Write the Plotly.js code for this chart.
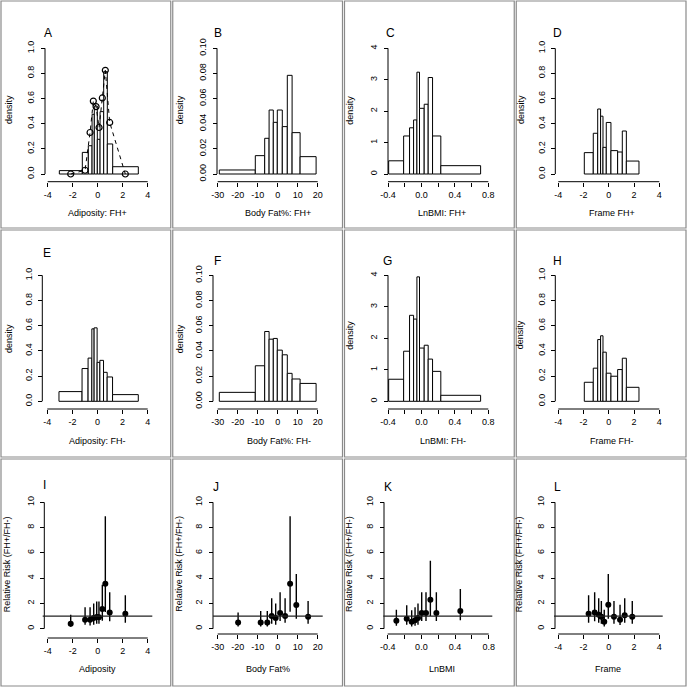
<!DOCTYPE html>
<html>
<head>
<meta charset="utf-8">
<script src="https://cdn.plot.ly/plotly-3.0.1.min.js"></script>
<style>html,body{margin:0;padding:0;background:#fff;}#plot{width:687px;height:687px;}</style>
</head>
<body>
<div id="plot"></div>
<script>
// ---------------- DATA ----------------
// histogram bin edges (shared by FH+ and FH- panels of each measure)
const adiposityEdges = [-3.07, -1.23, -0.75, -0.45, -0.27, -0.03, 0.19, 0.48, 0.77, 1.20, 3.25];
const adiposityDensFHpos = [0.027, 0.172, 0.225, 0.475, 0.541, 0.276, 0.496, 0.814, 0.239, 0.058];
const adiposityDensFHneg = [0.077, 0.260, 0.343, 0.575, 0.583, 0.309, 0.325, 0.230, 0.193, 0.053];
const adiposityCurveX = [-2.16, -1.01, -0.61, -0.35, -0.13, 0.11, 0.37, 0.61, 0.96, 2.21];
const adiposityCurveY = [0.00, 0.03, 0.33, 0.58, 0.536, 0.37, 0.605, 0.825, 0.41, 0.00];

const bodyFatEdges = [-29.2, -11.2, -6.5, -4.3, -2.2, -0.2, 2.3, 4.8, 7.2, 11.2, 19.2];
const bodyFatDensFHpos = [0.0032, 0.0146, 0.0284, 0.0509, 0.0411, 0.0509, 0.0377, 0.0785, 0.0329, 0.0138];
const bodyFatDensFHneg = [0.0071, 0.0282, 0.0554, 0.0493, 0.0499, 0.0406, 0.0369, 0.0222, 0.0177, 0.0142];

const lnBMIEdges = [-0.392, -0.213, -0.142, -0.094, -0.054, -0.023, 0.033, 0.081, 0.133, 0.232, 0.708];
const lnBMIDensFHpos = [0.42, 1.21, 1.47, 1.72, 3.24, 2.09, 2.22, 3.07, 1.21, 0.265];
const lnBMIDensFHneg = [0.70, 1.59, 2.73, 2.61, 3.95, 1.69, 1.78, 1.34, 0.95, 0.19];

const frameEdges = [-1.94, -1.23, -0.88, -0.65, -0.46, -0.20, 0.17, 0.70, 1.07, 1.39, 2.39];
const frameDensFHpos = [0.170, 0.324, 0.517, 0.460, 0.212, 0.410, 0.186, 0.175, 0.342, 0.103];
const frameDensFHneg = [0.151, 0.263, 0.490, 0.520, 0.390, 0.223, 0.199, 0.252, 0.342, 0.111];

// relative risk (FH+/FH-) with confidence limits
const adiposityRRx  = [-2.16, -1.01, -0.61, -0.32, -0.08, 0.10, 0.37, 0.61, 0.96, 2.21];
const adiposityRR   = [0.40, 0.71, 0.71, 0.84, 0.92, 0.90, 1.56, 3.56, 1.29, 1.19];
const adiposityRRlo = [0.15, 0.32, 0.26, 0.32, 0.40, 0.40, 0.63, 1.32, 0.58, 0.47];
const adiposityRRhi = [1.11, 1.69, 1.69, 2.00, 2.16, 2.16, 3.48, 8.89, 2.88, 2.64];

const bodyFatRRx  = [-19.8, -8.5, -5.2, -3.0, -1.0, 1.2, 3.7, 6.2, 9.3, 15.2];
const bodyFatRR   = [0.50, 0.50, 0.50, 1.00, 0.84, 1.24, 1.00, 3.56, 1.87, 0.95];
const bodyFatRRlo = [0.18, 0.18, 0.18, 0.40, 0.32, 0.60, 0.47, 1.35, 0.79, 0.40];
const bodyFatRRhi = [1.29, 1.40, 1.40, 2.40, 2.00, 2.88, 2.40, 8.89, 4.33, 2.19];

const lnBMIRRx  = [-0.297, -0.174, -0.115, -0.075, -0.040, 0.004, 0.055, 0.107, 0.178, 0.463];
const lnBMIRR   = [0.63, 0.79, 0.55, 0.66, 0.84, 1.24, 1.24, 2.30, 1.24, 1.40];
const lnBMIRRlo = [0.24, 0.32, 0.18, 0.24, 0.32, 0.60, 0.60, 1.00, 0.60, 0.66];
const lnBMIRRhi = [1.50, 1.85, 1.45, 1.69, 2.00, 2.88, 2.88, 5.38, 2.88, 3.14];

const frameRRx  = [-1.60, -1.12, -0.80, -0.59, -0.36, -0.04, 0.41, 0.89, 1.26, 1.86];
const frameRR   = [1.19, 1.29, 1.10, 0.95, 0.55, 1.90, 0.95, 0.71, 1.06, 0.95];
const frameRRlo = [0.47, 0.58, 0.47, 0.40, 0.18, 0.79, 0.40, 0.29, 0.47, 0.40];
const frameRRhi = [2.64, 2.88, 2.40, 2.19, 1.50, 4.33, 2.19, 1.90, 2.40, 2.19];

// tick values / labels
const ticksAdipX = [-4, -2, 0, 2, 4];
const ticksBodyFatX = [-30, -20, -10, 0, 10, 20];
const ticksLnBMIX = [-0.4, -0.2, 0.0, 0.2, 0.4, 0.6, 0.8];
const labelsLnBMIX = ['-0.4', '', '0.0', '', '0.4', '', '0.8'];
const ticksFrameX = [-4, -2, 0, 2, 4];
const ticksDens1 = [0, 0.2, 0.4, 0.6, 0.8, 1.0];
const labelsDens1 = ['0.0', '0.2', '0.4', '0.6', '0.8', '1.0'];
const ticksDensBF = [0, 0.02, 0.04, 0.06, 0.08, 0.10];
const labelsDensBF = ['0.00', '0.02', '0.04', '0.06', '0.08', '0.10'];
const ticksDensLn = [0, 1, 2, 3, 4];
const ticksRR = [0, 2, 4, 6, 8, 10];

const panelLetters = ['A','B','C','D','E','F','G','H','I','J','K','L'];
const xTitles = ['Adiposity: FH+','Body Fat%: FH+','LnBMI: FH+','Frame FH+',
                 'Adiposity: FH-','Body Fat%: FH-','LnBMI: FH-','Frame FH-',
                 'Adiposity','Body Fat%','LnBMI','Frame'];
const yTitleHist = 'density';
const yTitleRR = 'Relative Risk (FH+/FH-)';

// ---------------- GEOMETRY (pixels) ----------------
const W = 687;
const FONT = 'Liberation Sans, Arial, Helvetica, sans-serif';
// yAx: x of y-axis line; xAx: y of x-axis line; xm/ym: value->pixel calibration
const geo = [
  {yAx:45.0,  xAx:181.7, xm:[-4,47.7,4,147.7],    ym:[0,174,1,48.3],   letter:[47.7,33.3], xt:[97.7,213.3],  yt:[9,110]},
  {yAx:217.0, xAx:181.7, xm:[-30,217.7,20,317.7], ym:[0,174,0.1,48.3], letter:[218,33.3],  xt:[278,213.3],   yt:[180.3,110]},
  {yAx:388.0, xAx:181.7, xm:[-0.4,388.0,0.8,488.3],ym:[0,174,4,48.3],  letter:[390.7,33.3],xt:[442.3,213.3], yt:[349.7,110]},
  {yAx:555.3, xAx:181.7, xm:[-4,558.3,4,659.3],   ym:[0,174,1,48.3],   letter:[557.7,33.3],xt:[612.2,213.3], yt:[521,110]},
  {yAx:42.3,  xAx:409,   xm:[-4,47.3,4,147.7],    ym:[0,401.3,1,275.3],letter:[46.7,253],  xt:[97.3,440.7],  yt:[9,339]},
  {yAx:213.0, xAx:409,   xm:[-30,217.7,20,317.7], ym:[0,401.3,0.1,275.3],letter:[217,260.7],xt:[278.7,440.7], yt:[180.3,339]},
  {yAx:388.0, xAx:409,   xm:[-0.4,388.0,0.8,488.3],ym:[0,401.3,4,275.3],letter:[387.7,260.7],xt:[442.7,440.7],yt:[349.7,335]},
  {yAx:555.3, xAx:409,   xm:[-4,558.3,4,659.3],   ym:[0,401.3,1,275.3],letter:[557.7,260.7],xt:[612.3,440.7],yt:[520.3,335]},
  {yAx:44.3,  xAx:638,   xm:[-4,47.7,4,147.7],    ym:[0,628.7,10,502.3],letter:[44.3,485.3],xt:[97.3,668.7], yt:[7.3,564], dom:[42.7,152.3]},
  {yAx:213.0, xAx:634,   xm:[-30,217.7,20,317.7], ym:[0,628.7,10,502.3],letter:[216.3,487.3],xt:[267.7,668.7],yt:[178.7,564], dom:[213,322.7]},
  {yAx:384.0, xAx:634,   xm:[-0.4,387.7,0.8,488.7],ym:[0,628.7,10,502.3],letter:[387.7,487.3],xt:[442.3,668.7],yt:[349,564], dom:[383.3,492.3]},
  {yAx:555.0, xAx:634,   xm:[-4,558.3,4,659.3],   ym:[0,628.7,10,502.3],letter:[557,487.3],xt:[608.3,668.7], yt:[519.3,564], dom:[554,662.7]}
];

const xTickSets = [
  [ticksAdipX, ticksAdipX.map(String)], [ticksBodyFatX, ticksBodyFatX.map(String)],
  [ticksLnBMIX, labelsLnBMIX], [ticksFrameX, ticksFrameX.map(String)]
];
const yTickSets = [
  [ticksDens1, labelsDens1], [ticksDensBF, labelsDensBF],
  [ticksDensLn, ticksDensLn.map(String)], [ticksDens1, labelsDens1],
  [ticksDens1, labelsDens1], [ticksDensBF, labelsDensBF],
  [ticksDensLn, ticksDensLn.map(String)], [ticksDens1, labelsDens1],
  [ticksRR, ticksRR.map(String)], [ticksRR, ticksRR.map(String)],
  [ticksRR, ticksRR.map(String)], [ticksRR, ticksRR.map(String)]
];

function mapper(m){ const s=(m[2]-m[0])/(m[3]-m[1]); return p => m[0]+(p-m[1])*s; }
const fx = px => px / W;
const fy = py => 1 - py / W;

const layout = {
  width: W, height: W,
  margin: {l:0, r:0, t:0, b:0},
  paper_bgcolor: '#ffffff', plot_bgcolor: 'rgba(0,0,0,0)',
  showlegend: false,
  font: {family: FONT, size: 9, color: '#000'},
  shapes: [], annotations: []
};
const traces = [];

function histTrace(edges, dens, ax) {
  const mids = [], widths = [];
  for (let i = 0; i < dens.length; i++) { mids.push((edges[i]+edges[i+1])/2); widths.push(edges[i+1]-edges[i]); }
  return {type:'bar', x:mids, y:dens, width:widths, xaxis:'x'+ax, yaxis:'y'+ax,
          marker:{color:'#ffffff', line:{color:'#000', width:1}}, hoverinfo:'skip'};
}
function rrTrace(x, rr, lo, hi, ax) {
  return {type:'scatter', mode:'markers', x:x, y:rr, xaxis:'x'+ax, yaxis:'y'+ax,
          marker:{color:'#000', size:6},
          error_y:{type:'data', symmetric:false,
                   array: hi.map((h,i)=>h-rr[i]), arrayminus: lo.map((l,i)=>rr[i]-l),
                   width:0, thickness:1.4, color:'#000'}, hoverinfo:'skip'};
}

geo.forEach((g, i) => {
  const n = i + 1;
  const ax = n === 1 ? '' : String(n);
  const xt = xTickSets[i % 4], yt = yTickSets[i];
  const mx = mapper(g.xm), my = mapper(g.ym);
  let L, R;
  if (g.dom) { L = g.dom[0]; R = g.dom[1]; }
  else { L = Math.min(g.yAx, g.xm[1]) - 3; R = g.xm[3] + 6; }
  const T = g.ym[3] - 5, B = g.xAx;
  layout['xaxis'+ax] = {
    domain:[fx(L), fx(R)], range:[mx(L), mx(R)], anchor:'free', position: fy(g.xAx),
    tickmode:'array', tickvals: xt[0], ticktext: xt[1], ticks:'outside', ticklen:4, tickwidth:1, tickcolor:'#000',
    showline:false, showgrid:false, zeroline:false, fixedrange:true,
    tickfont:{family:FONT, size:9, color:'#000'}
  };
  layout['yaxis'+ax] = {
    domain:[fy(B), fy(T)], range:[my(B), my(T)], anchor:'free', position: fx(g.yAx),
    tickmode:'array', tickvals: yt[0], ticktext: yt[1], ticks:'outside', ticklen:4, tickwidth:1, tickcolor:'#000',
    tickangle:-90, ticklabelstandoff:3, showline:false, showgrid:false, zeroline:false, fixedrange:true,
    tickfont:{family:FONT, size:9, color:'#000'}
  };
  // R-style axis lines spanning first..last tick
  const xv = xt[0], yv = yt[0];
  layout.shapes.push({type:'line', xref:'x'+ax, yref:'paper', x0:xv[0], x1:xv[xv.length-1],
    y0:fy(g.xAx), y1:fy(g.xAx), line:{color:'#000', width:1}});
  layout.shapes.push({type:'line', xref:'paper', yref:'y'+ax, x0:fx(g.yAx), x1:fx(g.yAx),
    y0:yv[0], y1:yv[yv.length-1], line:{color:'#000', width:1}});
  if (i >= 8) {
    layout.shapes.push({type:'line', xref:'x'+ax+' domain', yref:'y'+ax, x0:0, x1:1, y0:1, y1:1,
      line:{color:'#222', width:1.3}});
  }
  // texts
  layout.annotations.push({text: panelLetters[i], xref:'paper', yref:'paper', x:fx(g.letter[0]), y:fy(g.letter[1]),
    xanchor:'center', yanchor:'middle', showarrow:false, font:{family:FONT, size:12, color:'#000'}});
  layout.annotations.push({text: xTitles[i], xref:'paper', yref:'paper', x:fx(g.xt[0]), y:fy(g.xt[1]),
    xanchor:'center', yanchor:'middle', showarrow:false, font:{family:FONT, size:9, color:'#000'}});
  layout.annotations.push({text: i >= 8 ? yTitleRR : yTitleHist, xref:'paper', yref:'paper', x:fx(g.yt[0]), y:fy(g.yt[1]),
    xanchor:'center', yanchor:'middle', textangle:-90, showarrow:false, font:{family:FONT, size:9, color:'#000'}});
});

// histograms
traces.push(histTrace(adiposityEdges, adiposityDensFHpos, ''));
traces.push({type:'scatter', mode:'lines+markers', x:adiposityCurveX, y:adiposityCurveY, xaxis:'x', yaxis:'y',
  line:{color:'#000', width:1, dash:'4px,4px'}, marker:{symbol:'circle-open', size:6, color:'#000', line:{width:1.2, color:'#000'}}, hoverinfo:'skip'});
traces.push(histTrace(bodyFatEdges, bodyFatDensFHpos, '2'));
traces.push(histTrace(lnBMIEdges, lnBMIDensFHpos, '3'));
traces.push(histTrace(frameEdges, frameDensFHpos, '4'));
traces.push(histTrace(adiposityEdges, adiposityDensFHneg, '5'));
traces.push(histTrace(bodyFatEdges, bodyFatDensFHneg, '6'));
traces.push(histTrace(lnBMIEdges, lnBMIDensFHneg, '7'));
traces.push(histTrace(frameEdges, frameDensFHneg, '8'));
// relative risk
traces.push(rrTrace(adiposityRRx, adiposityRR, adiposityRRlo, adiposityRRhi, '9'));
traces.push(rrTrace(bodyFatRRx, bodyFatRR, bodyFatRRlo, bodyFatRRhi, '10'));
traces.push(rrTrace(lnBMIRRx, lnBMIRR, lnBMIRRlo, lnBMIRRhi, '11'));
traces.push(rrTrace(frameRRx, frameRR, frameRRlo, frameRRhi, '12'));

// cell frames
const cw = W / 4, ch = W / 3;
for (let r = 0; r < 3; r++) for (let c = 0; c < 4; c++) {
  layout.shapes.push({type:'rect', xref:'paper', yref:'paper',
    x0: fx(c*cw + 1), x1: fx((c+1)*cw - 1), y0: fy(r*ch + 1), y1: fy((r+1)*ch - 1),
    line:{color:'#8a8a8a', width:1.2}, fillcolor:'rgba(0,0,0,0)', layer:'below'});
}

Plotly.newPlot('plot', traces, layout, {staticPlot:true, displayModeBar:false});
</script>
</body>
</html>
